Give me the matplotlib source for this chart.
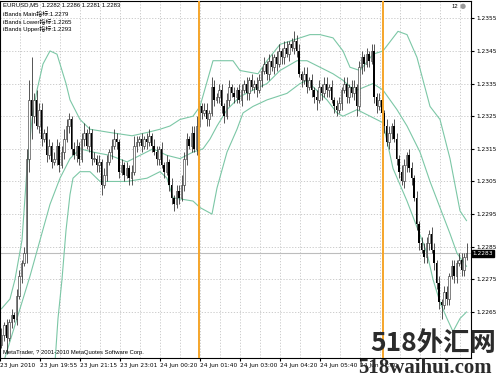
import matplotlib
matplotlib.use("Agg")
import matplotlib.pyplot as plt
import matplotlib.transforms as mtransforms
import numpy as np

# EURUSD M5 candles (open of each bar = previous close)
first_open = 1.2255
closes = [
    1.2258, 1.2261, 1.2257, 1.2262, 1.2264, 1.2263, 1.2270, 1.2276, 1.2280, 1.2283,
    1.2312, 1.2330, 1.2325, 1.2330, 1.2322, 1.2327, 1.2318, 1.2320, 1.2313, 1.2316,
    1.2311, 1.2312, 1.2316, 1.2310, 1.2314, 1.2318, 1.2322, 1.2324, 1.2315, 1.2313,
    1.2316, 1.2312, 1.2318, 1.2320, 1.2316, 1.2320, 1.2312, 1.2312, 1.2310, 1.2311,
    1.2304, 1.2307, 1.2311, 1.2314, 1.2316, 1.2318, 1.2317, 1.2308, 1.2310, 1.2307,
    1.2309, 1.2306, 1.2308, 1.2316, 1.2317, 1.2318, 1.2316, 1.2318, 1.2317, 1.2319,
    1.2316, 1.2314, 1.2312, 1.2315, 1.2310, 1.2308, 1.2311, 1.2304, 1.2300, 1.2298,
    1.2302, 1.2300, 1.2304, 1.2312, 1.2318, 1.2316, 1.2320, 1.2315, 1.2322, 1.2328,
    1.2326, 1.2327, 1.2324, 1.2326, 1.2334, 1.2330, 1.2331, 1.2333, 1.2328, 1.2325,
    1.2330, 1.2334, 1.2332, 1.2331, 1.2333, 1.2330, 1.2333, 1.2335, 1.2332, 1.2336,
    1.2334, 1.2335, 1.2333, 1.2336, 1.2339, 1.2341, 1.2338, 1.2342, 1.2340, 1.2343,
    1.2341, 1.2345, 1.2343, 1.2346, 1.2344, 1.2347, 1.2346, 1.2348, 1.2345, 1.2338,
    1.2336, 1.2338, 1.2334, 1.2336, 1.2333, 1.2331, 1.2330, 1.2334, 1.2332, 1.2335,
    1.2333, 1.2334, 1.2330, 1.2328, 1.2327, 1.2329, 1.2333, 1.2335, 1.2331, 1.2334,
    1.2332, 1.2334, 1.2328, 1.2340, 1.2343, 1.2341, 1.2344, 1.2342, 1.2345, 1.2331,
    1.2328, 1.2330, 1.2326, 1.2322, 1.2317, 1.2320, 1.2322, 1.2318, 1.2312, 1.2308,
    1.2305, 1.2310, 1.2313, 1.2309, 1.2306, 1.2300, 1.2292, 1.2286, 1.2284, 1.2282,
    1.2286, 1.2289, 1.2284, 1.2280, 1.2274, 1.2268, 1.2267, 1.2271, 1.2269, 1.2276,
    1.2279, 1.2276, 1.2280, 1.2281, 1.2278, 1.2282, 1.2283,
]
# wick lengths in pips above / below the body
up_wick = [
    2, 1, 2, 1, 2, 1, 2, 2, 1, 2,  3, 6, 13, 2, 3, 2, 2, 1, 2, 2,
    1, 2, 2, 1, 2, 3, 2, 2, 1, 2,  2, 1, 2, 3, 1, 2, 1, 2, 1, 2,
    1, 2, 2, 1, 2, 3, 2, 1, 2, 1,  2, 1, 2, 3, 2, 1, 2, 1, 2, 2,
    1, 2, 2, 1, 2, 1, 2, 1, 2, 1,  2, 2, 3, 2, 2, 1, 2, 2, 3, 2,
    1, 2, 2, 1, 3, 2, 1, 2, 2, 1,  2, 2, 1, 2, 1, 2, 2, 1, 2, 1,
    2, 1, 2, 2, 1, 2, 1, 2, 2, 1,  2, 2, 1, 2, 2, 1, 2, 3, 2, 2,
    1, 2, 2, 1, 2, 1, 2, 2, 1, 2,  2, 1, 2, 1, 2, 2, 1, 2, 2, 1,
    2, 2, 1, 2, 2, 1, 2, 1, 2, 2,  1, 2, 2, 1, 2, 2, 1, 2, 2, 1,
    2, 2, 1, 2, 2, 1, 2, 1, 2, 2,  2, 1, 2, 2, 1, 2, 1, 2, 2, 1,
    2, 2, 1, 2, 2, 1, 3,
]
down_wick = [
    1, 2, 5, 1, 2, 1, 2, 1, 2, 1,  3, 4, 7, 2, 1, 2, 2, 1, 2, 1,
    2, 1, 2, 2, 1, 2, 1, 2, 2, 1,  2, 2, 1, 2, 1, 2, 2, 1, 2, 2,
    3, 1, 2, 1, 2, 1, 2, 2, 1, 2,  1, 2, 2, 1, 2, 1, 2, 1, 2, 1,
    2, 1, 2, 2, 1, 2, 1, 2, 2, 2,  1, 2, 1, 2, 2, 1, 2, 1, 2, 2,
    2, 1, 2, 2, 1, 2, 1, 2, 2, 2,  1, 2, 1, 2, 2, 1, 2, 1, 2, 2,
    1, 2, 2, 1, 2, 1, 2, 2, 1, 2,  2, 1, 2, 2, 1, 2, 1, 2, 2, 1,
    2, 1, 2, 1, 2, 2, 3, 1, 2, 1,  2, 2, 1, 2, 2, 1, 2, 1, 2, 2,
    1, 2, 3, 1, 2, 2, 1, 2, 1, 2,  2, 1, 2, 2, 1, 2, 2, 1, 2, 2,
    1, 2, 2, 1, 2, 1, 2, 2, 1, 2,  2, 2, 1, 2, 2, 2, 4, 1, 2, 2,
    1, 2, 2, 1, 2, 2, 1,
]

# Bollinger bands, sampled at bar positions
upper_at = [0, 3.4, 5.4, 8.2, 10.2, 12.2, 14.2, 16.6, 19.4, 22.2, 24.2, 25.8, 27.4, 31.4, 35.4,
            43.4, 52.2, 58.2, 63.4, 67.4, 71.4, 76.6, 79.4, 84.6, 87.4, 92.6, 95.4, 102.6, 106.2,
            111.4, 115.4, 119.4, 123.4, 127.4, 132.6, 136.6, 139.4, 143.4, 148.6, 152.6, 158.6,
            162.2, 166.2, 171.4, 175.4, 179.4, 183.4, 186]
upper = [1.2266, 1.2269, 1.2275, 1.2287, 1.2309, 1.2324, 1.2333, 1.2341, 1.2345, 1.2344, 1.2339,
         1.2335, 1.2330, 1.2324, 1.2321, 1.2320, 1.2319, 1.2320, 1.2321, 1.2322, 1.2324, 1.2325,
         1.2328, 1.2342, 1.2342, 1.2342, 1.2339, 1.2338, 1.2342, 1.2347, 1.2348, 1.2349, 1.2350,
         1.2350, 1.2349, 1.2345, 1.2340, 1.2339, 1.2344, 1.2345, 1.2351, 1.2350, 1.2343, 1.2328,
         1.2324, 1.2312, 1.2296, 1.2293]
mid_at = [0, 1.4, 7.4, 11.4, 15.4, 19.4, 23.4, 27.4, 31.4, 36.6, 43.4, 50.2, 55.4, 60.6, 66.2,
          71.4, 76.6, 80.6, 83.4, 86.2, 90.2, 95.4, 100.6, 106.2, 111.4, 118.2, 122.2, 127.4,
          132.6, 136.6, 139.4, 142.2, 148.6, 152.6, 158.2, 162.2, 167.4, 171.4, 175.4, 179.4,
          182.2, 186]
mid = [1.2247, 1.2251, 1.2266, 1.2276, 1.2287, 1.2298, 1.2306, 1.2312, 1.2315, 1.2314, 1.2313,
       1.2311, 1.2313, 1.2315, 1.2313, 1.2312, 1.2314, 1.2315, 1.2318, 1.2322, 1.2327, 1.2331,
       1.2333, 1.2335, 1.2339, 1.2342, 1.2342, 1.2340, 1.2338, 1.2336, 1.2334, 1.2333, 1.2335,
       1.2333, 1.2327, 1.2322, 1.2314, 1.2305, 1.2297, 1.2289, 1.2283, 1.2279]
lower_at = [21.0, 22.6, 24.2, 25.8, 27.4, 28.6, 31.4, 35.4, 39.4, 50.2, 58.2, 63.4, 66.2, 68.6,
            76.6, 79.4, 84.2, 86.2, 90.2, 94.2, 96.6, 100.6, 106.2, 110.2, 114.2, 119.4, 122.2,
            124.6, 130.2, 134.2, 136.6, 142.2, 147.4, 152.6, 156.6, 162.2, 166.2, 170.2, 172.6,
            175.4, 178.2, 180.6, 183.4, 186]
lower = [1.2245, 1.2263, 1.2275, 1.2290, 1.2301, 1.2306, 1.2308, 1.2308, 1.2305, 1.2305, 1.2306,
         1.2308, 1.2306, 1.2300, 1.2299, 1.2297, 1.2295, 1.2303, 1.2314, 1.2321, 1.2326, 1.2328,
         1.2330, 1.2331, 1.2332, 1.2335, 1.2336, 1.2334, 1.2330, 1.2326, 1.2325, 1.2327, 1.2325,
         1.2323, 1.2309, 1.2299, 1.2291, 1.2283, 1.2275, 1.2268, 1.2263, 1.2259, 1.2263, 1.2265]

vline_at = [79.0, 152.6]     # the two orange vertical lines
last_price = 1.2283
price_ticks = [1.2265, 1.2275, 1.2285, 1.2295, 1.2305, 1.2315, 1.2325, 1.2335, 1.2345, 1.2355]
time_labels = ["23 Jun 2010", "23 Jun 19:55", "23 Jun 21:15", "23 Jun 23:01", "24 Jun 00:20",
               "24 Jun 01:40", "24 Jun 03:00", "24 Jun 04:20", "24 Jun 05:40", "24 Jun 07:00"]

W, H = 503, 376
fig = plt.figure(figsize=(W / 100, H / 100), dpi=100, facecolor="white")
ax = fig.add_axes([0, 18 / H, 471 / W, 357 / H])
x0, x1 = -0.6, 187.8
ax.set_xlim(x0, x1)
ax.set_ylim(1.22509, 1.23603)

# grid: every 20px vertically, price ticks horizontally
px_per_bar = 2.5
ax.set_xticks(np.arange(0, 400, 40) / px_per_bar + x0)
ax.set_xticks(np.arange(0, 471, 20) / px_per_bar + x0, minor=True)
ax.set_xticklabels(time_labels)
for lab in ax.get_xticklabels():
    lab.set_ha("left")
ax.set_yticks(price_ticks)
ax.set_yticklabels(["%.4f" % p for p in price_ticks])
ax.yaxis.tick_right()
ax.grid(True, which="both", color="#c4c4c4", lw=0.6, ls=(0, (1.5, 2)))
ax.set_axisbelow(True)
ax.tick_params(axis="x", which="major", labelsize=4.2, length=2, pad=1.5)
ax.tick_params(axis="x", which="minor", length=0)
ax.tick_params(axis="y", labelsize=4.2, length=2, pad=2)
for s in ax.spines.values():
    s.set_linewidth(0.8)

ax.axhline(last_price, color="#bdbdbd", lw=0.8, zorder=1)

# bands
band_col = "#7cc7a6"
ax.plot(upper_at, upper, color=band_col, lw=0.8, zorder=2)
ax.plot(mid_at, mid, color=band_col, lw=0.8, zorder=2)
ax.plot(lower_at, lower, color=band_col, lw=0.8, zorder=2)

for v in vline_at:
    ax.axvline(v, color="#f5a52a", lw=1.4, zorder=5)

# candles
c = np.array(closes)
o = np.r_[first_open, c[:-1]]
hi = np.maximum(o, c) + np.array(up_wick) * 0.0001
lo = np.minimum(o, c) - np.array(down_wick) * 0.0001
idx = np.arange(len(c))
ax.vlines(idx, lo, hi, color="#111111", lw=0.5, zorder=3)
bull = c >= o
body = np.maximum(np.abs(c - o), 0.00003)
ax.bar(idx[bull], body[bull], bottom=o[bull], width=0.6, facecolor="white",
       edgecolor="#222222", lw=0.4, zorder=4)
ax.bar(idx[~bull], body[~bull], bottom=c[~bull], width=0.6, color="black", lw=0, zorder=4)

# current price box on the right axis
trans = mtransforms.blended_transform_factory(ax.transAxes, ax.transData)
ax.text(1.004, last_price, "%.4f" % last_price, transform=trans, fontsize=4.2, color="white",
        va="center", ha="left", zorder=6,
        bbox=dict(boxstyle="square,pad=0.15", fc="black", ec="black"))

# texts
fam = ["Liberation Sans", "Noto Sans CJK SC"]
fig.text(3 / W, 1 - 2 / H, "EURUSD,M5  1.2282 1.2286 1.2281 1.2283", fontsize=4.3,
         va="top", family=fam)
fig.text(3 / W, 1 - 10 / H, "iBands Main指标:1.2279", fontsize=4.3, va="top", family=fam)
fig.text(3 / W, 1 - 18 / H, "iBands Lower指标:1.2265", fontsize=4.3, va="top", family=fam)
fig.text(3 / W, 1 - 26 / H, "iBands Upper指标:1.2293", fontsize=4.3, va="top", family=fam)
fig.text(3 / W, 1 - 355 / H, "MetaTrader, ? 2001-2010 MetaQuotes Software Corp.", fontsize=4.2,
         va="bottom", family=fam)
fig.text(452 / W, 1 - 6 / H, "12", fontsize=4.2, va="center", family=fam)
fig.text(463 / W, 1 - 6 / H, "\u25cf", fontsize=5, va="center", ha="center", color="#9a9a9a")

# watermark
fig.text(370 / W, 1 - 351 / H, "518外汇网", fontsize=19, color="#2b2b2b", fontweight="bold",
         family=["Noto Sans CJK SC"], va="baseline", zorder=10)
fig.text(358 / W, 1 - 373 / H, "518waihui.com", fontsize=15, color="#2b2b2b", fontweight="bold",
         family=["Liberation Serif"], va="baseline", zorder=10)

fig.savefig("out.png", dpi=100, facecolor="white")
